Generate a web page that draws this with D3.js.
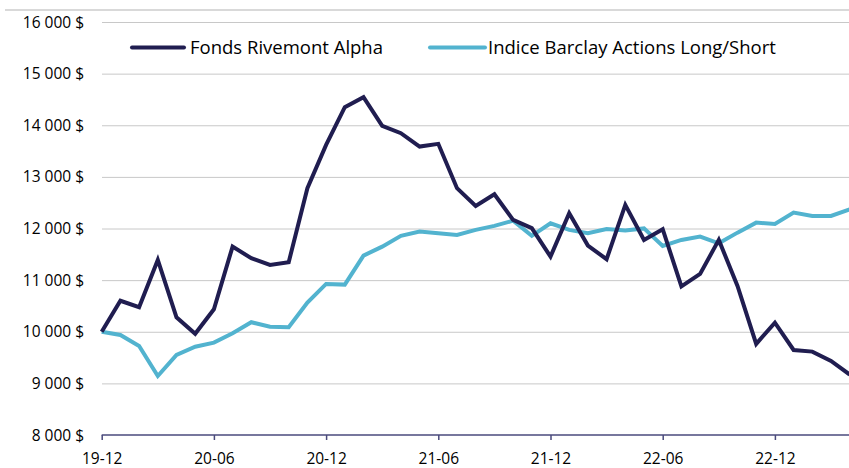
<!DOCTYPE html>
<html>
<head>
<meta charset="utf-8">
<script src="https://cdn.jsdelivr.net/npm/d3@7"></script>
<style>
  html, body { margin: 0; padding: 0; background: #fff; }
  svg text { font-family: "Open Sans", sans-serif; fill: #000; }
  .grid line { stroke: #c8c8c8; stroke-width: 1; }
  .grid path { display: none; }
</style>
</head>
<body>
<div id="chart"></div>
<script>
var months = ["19-12","20-01","20-02","20-03","20-04","20-05","20-06","20-07","20-08","20-09","20-10","20-11",
              "20-12","21-01","21-02","21-03","21-04","21-05","21-06","21-07","21-08","21-09","21-10","21-11",
              "21-12","22-01","22-02","22-03","22-04","22-05","22-06","22-07","22-08","22-09","22-10","22-11",
              "22-12","23-01","23-02","23-03","23-04"];

var fondsValues = [10000,10600,10475,11390,10280,9960,10436,11650,11424,11295,11347,12781,
                   13620,14351,14544,13988,13847,13587,13640,12781,12438,12664,12167,12006,
                   11455,12296,11669,11405,12457,11779,11986,10878,11120,11779,10888,9764,
                   10176,9647,9615,9434,9170];

var indiceValues = [10000,9938,9725,9143,9550,9711,9789,9970,10184,10099,10087,10564,
                    10926,10913,11475,11649,11857,11940,11907,11876,11973,12050,12153,11857,
                    12101,11973,11907,11990,11960,12002,11663,11779,11843,11714,11920,12114,
                    12089,12308,12244,12244,12370];

var yTicks = [8000,9000,10000,11000,12000,13000,14000,15000,16000];
var xTickLabels = ["19-12","20-06","20-12","21-06","21-12","22-06","22-12"];

var seriesNames = ["Fonds Rivemont Alpha","Indice Barclay Actions Long/Short"];
var seriesColors = ["#201d50","#52b3cf"];

var width = 849, height = 468;
var margin = {top: 22, left: 102, right: 0, bottom: 33};

var svg = d3.select("#chart").append("svg")
            .attr("width", width)
            .attr("height", height);

// bordure du haut
svg.append("line")
   .attr("x1", 5).attr("x2", width)
   .attr("y1", 10).attr("y2", 10)
   .attr("stroke", "#d9d9d9")
   .attr("stroke-width", 2);

var xScale = d3.scalePoint()
               .domain(months)
               .range([101.7, 849.7]);

var yScale = d3.scaleLinear()
               .domain([8000, 16000])
               .range([435, 22]);

var fr = d3.formatLocale({decimal: ",", thousands: "\u00a0", grouping: [3], currency: ["", "\u00a0$"]});
var yFormat = fr.format("$,.0f");

// grille horizontale
var grid_y = d3.axisLeft(yScale)
               .tickValues(yTicks.slice(1))
               .tickSize(-(width - margin.left))
               .tickFormat("");

svg.append("g")
   .attr("class", "grid")
   .attr("transform", "translate(" + margin.left + ",0)")
   .call(grid_y);

// etiquettes y
svg.append("g")
   .selectAll("text")
   .data(yTicks)
   .enter()
   .append("text")
   .attr("x", 84)
   .attr("y", function(d){ return yScale(d); })
   .attr("dy", "0.36em")
   .attr("text-anchor", "end")
   .style("font-size", "15.5px")
   .text(function(d){ return yFormat(d); });

// axe x
var axis_x = d3.axisBottom(xScale)
               .tickValues(xTickLabels)
               .tickSize(5)
               .tickSizeOuter(0);

var gx = svg.append("g")
            .attr("transform", "translate(0,435)")
            .call(axis_x);

gx.select(".domain")
  .attr("stroke", "#4a4a7c")
  .attr("stroke-width", 1.5)
  .attr("d", "M101.7,0H" + width);
gx.selectAll(".tick line")
  .attr("stroke", "#4a4a7c")
  .attr("stroke-width", 1.5);
gx.selectAll(".tick text")
  .attr("y", 18)
  .attr("dy", "0.71em")
  .style("font-size", "15.5px")
  .style("font-family", "'Open Sans', sans-serif")
  .attr("fill", "#000");

var line = d3.line()
             .x(function(d, i){ return xScale(months[i]); })
             .y(function(d){ return yScale(d); });

var allSeries = [fondsValues, indiceValues];

// bleu en dessous, marine au dessus
[1, 0].forEach(function(k){
  svg.append("path")
     .attr("d", line(allSeries[k]))
     .attr("fill", "none")
     .attr("stroke", seriesColors[k])
     .attr("stroke-width", 4)
     .attr("stroke-linejoin", "miter");
});

// legende
var legendPos = [{x1: 132, x2: 184, tx: 190}, {x1: 430, x2: 485, tx: 488}];

var legend = svg.append("g")
                .selectAll("g")
                .data(seriesNames)
                .enter()
                .append("g");

legend.append("line")
      .attr("x1", function(d, i){ return legendPos[i].x1; })
      .attr("x2", function(d, i){ return legendPos[i].x2; })
      .attr("y1", 47.5).attr("y2", 47.5)
      .attr("stroke", function(d, i){ return seriesColors[i]; })
      .attr("stroke-width", 4)
      .attr("stroke-linecap", "round");

legend.append("text")
      .attr("x", function(d, i){ return legendPos[i].tx; })
      .attr("y", 47.5)
      .attr("dy", "0.36em")
      .style("font-size", "18.5px")
      .text(function(d){ return d; });
</script>
</body>
</html>
